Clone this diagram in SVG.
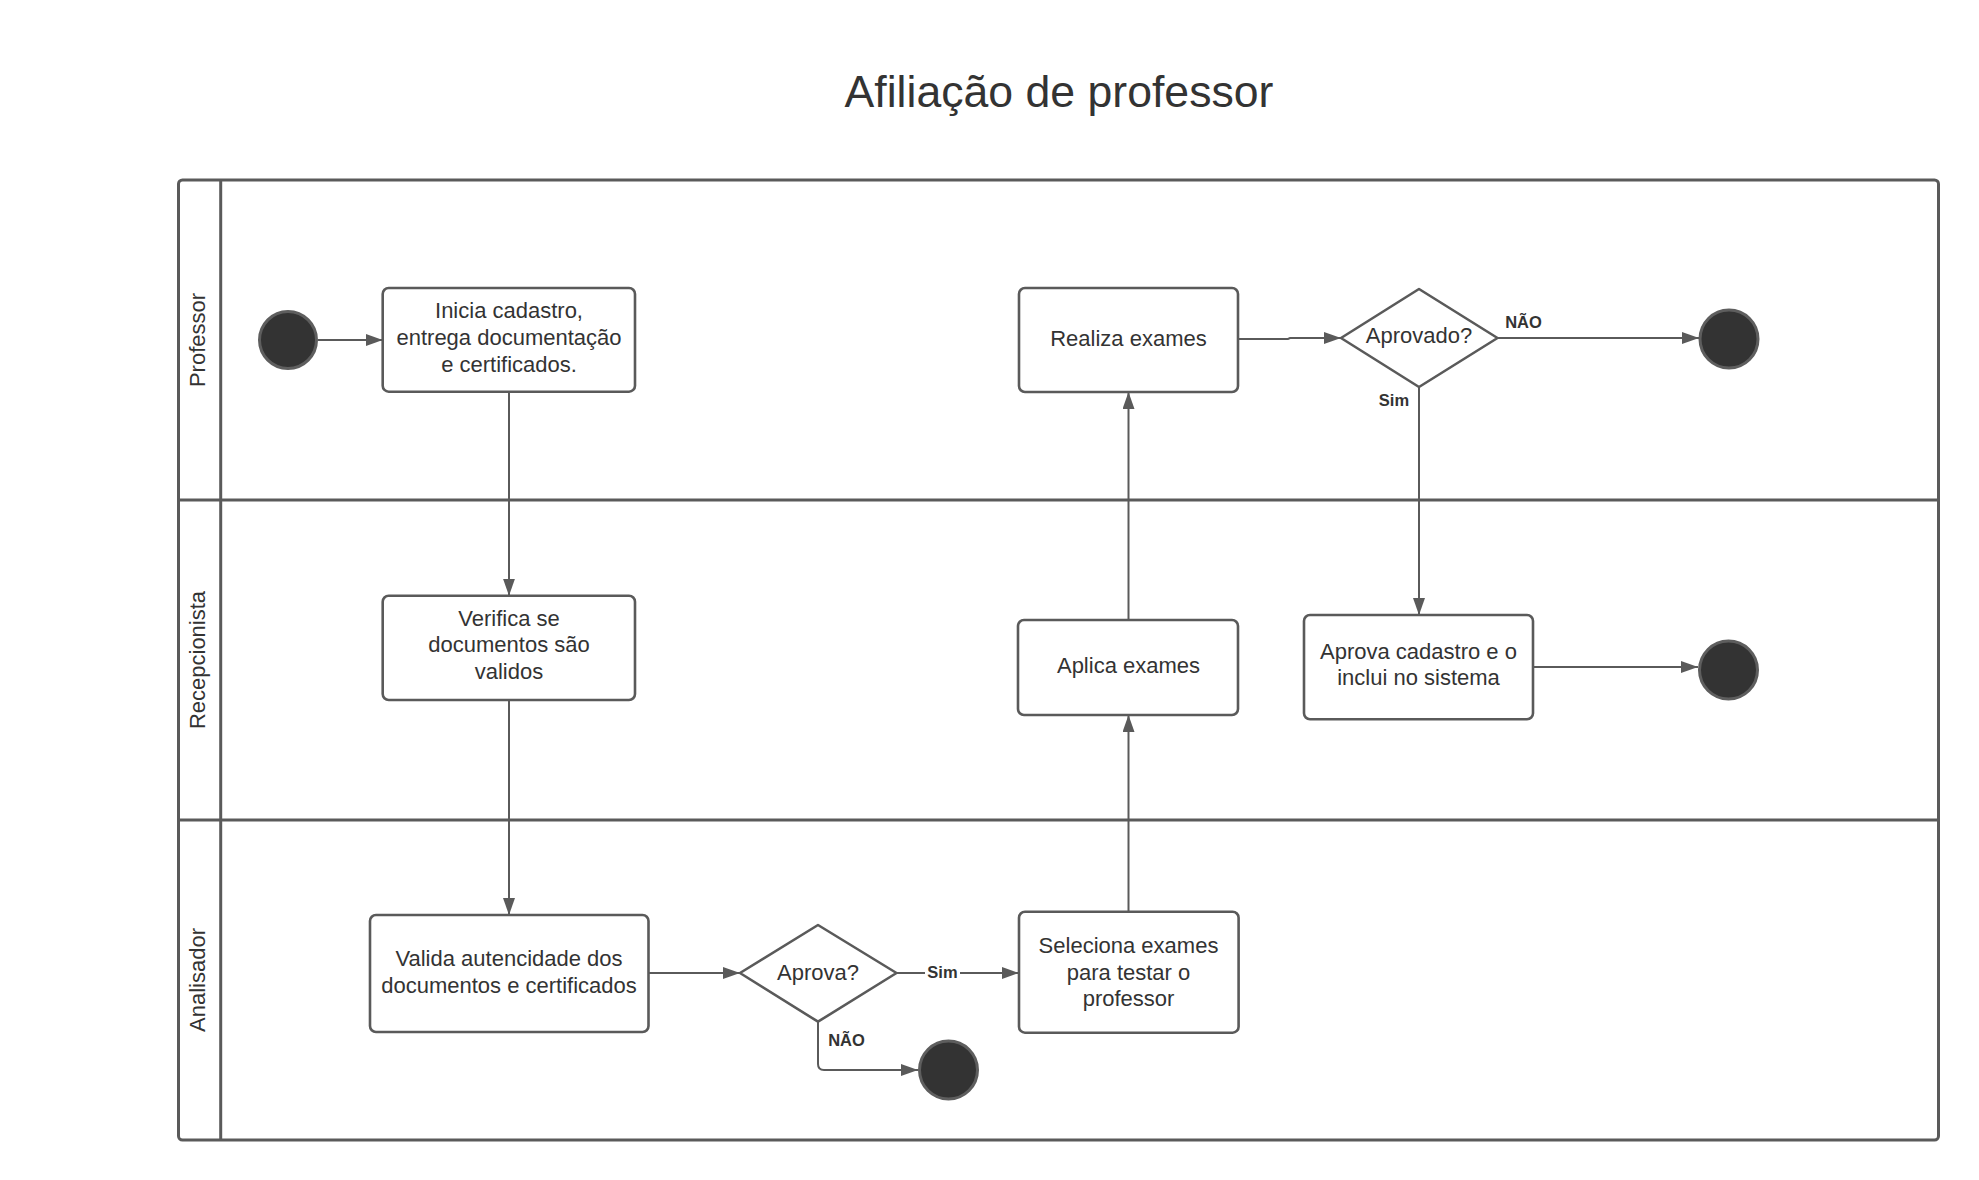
<svg xmlns="http://www.w3.org/2000/svg" width="1979" height="1180" viewBox="0 0 1979 1180">
<style>
.lane{fill:none;stroke:#5a5a5a;stroke-width:3}
.box{fill:#fff;stroke:#5a5a5a;stroke-width:2.6}
.end{fill:#333;stroke:#5e5e5e;stroke-width:3}
.t{font-family:"Liberation Sans",Arial,sans-serif;font-size:22px;fill:#333;text-anchor:middle}
.lbl{font-family:"Liberation Sans",Arial,sans-serif;font-size:16.5px;font-weight:bold;fill:#333}
.ln{font-family:"Liberation Sans",Arial,sans-serif;font-size:22px;fill:#333;text-anchor:middle}
.c{fill:none;stroke:#5a5a5a;stroke-width:2}
</style>
<defs>
<marker id="ah" markerUnits="userSpaceOnUse" markerWidth="17" markerHeight="12" refX="17" refY="6" orient="auto">
<path d="M0,0 L17,6 L0,12 z" fill="#5a5a5a"/>
</marker>
</defs>
<rect width="1979" height="1180" fill="#fff"/>
<text x="1059" y="107" font-family="Liberation Sans, Arial, sans-serif" font-size="44.6" fill="#333" text-anchor="middle">Afiliação de professor</text>
<g id="pool">
<rect class="lane" x="178.5" y="180" width="1760" height="960" rx="4"/>
<line class="lane" x1="220.7" y1="180" x2="220.7" y2="1140"/>
<line class="lane" x1="178.5" y1="500" x2="1938.5" y2="500"/>
<line class="lane" x1="178.5" y1="820" x2="1938.5" y2="820"/>
<text class="ln" transform="translate(205,340) rotate(-90)">Professor</text>
<text class="ln" transform="translate(205,660) rotate(-90)">Recepcionista</text>
<text class="ln" transform="translate(205,980) rotate(-90)">Analisador</text>
</g>
<g id="connectors">
<line class="c" x1="318" y1="340" x2="382.7" y2="340" marker-end="url(#ah)"/>
<line class="c" x1="509" y1="392" x2="509" y2="595.7" marker-end="url(#ah)"/>
<line class="c" x1="509" y1="700" x2="509" y2="915" marker-end="url(#ah)"/>
<line class="c" x1="648.5" y1="973" x2="740" y2="973" marker-end="url(#ah)"/>
<line class="c" x1="896.5" y1="973" x2="1019" y2="973" marker-end="url(#ah)"/>
<path class="c" d="M818,1022 V1064 Q818,1070 824,1070 H918" marker-end="url(#ah)"/>
<line class="c" x1="1128.5" y1="912" x2="1128.5" y2="715" marker-end="url(#ah)"/>
<line class="c" x1="1128.5" y1="620" x2="1128.5" y2="392" marker-end="url(#ah)"/>
<path class="c" d="M1238,339 H1288 L1290,338 H1341" marker-end="url(#ah)"/>
<line class="c" x1="1497.5" y1="338" x2="1699" y2="338" marker-end="url(#ah)"/>
<line class="c" x1="1419" y1="387" x2="1419" y2="615" marker-end="url(#ah)"/>
<line class="c" x1="1533" y1="667" x2="1698" y2="667" marker-end="url(#ah)"/>
<rect x="925" y="962" width="35" height="20" fill="#fff"/>
<text class="lbl" x="942.5" y="978" text-anchor="middle">Sim</text>
<text class="lbl" x="1523.5" y="328" text-anchor="middle">NÃO</text>
<text class="lbl" x="1394" y="406" text-anchor="middle">Sim</text>
<text class="lbl" x="846.5" y="1046" text-anchor="middle">NÃO</text>
</g>
<g id="start"><circle class="end" cx="288" cy="340" r="28.5"/></g>
<g id="n_inicia">
<rect class="box" x="382.7" y="288" width="252.3" height="103.7" rx="6"/>
<text class="t" x="509" y="318.3">Inicia cadastro,</text>
<text class="t" x="509" y="345">entrega documentação</text>
<text class="t" x="509" y="371.7">e certificados.</text>
</g>
<g id="n_verifica">
<rect class="box" x="382.7" y="595.7" width="252.3" height="104.3" rx="6"/>
<text class="t" x="509" y="625.7">Verifica se</text>
<text class="t" x="509" y="652.3">documentos são</text>
<text class="t" x="509" y="679">validos</text>
</g>
<g id="n_valida">
<rect class="box" x="370" y="915" width="278.5" height="117" rx="6"/>
<text class="t" x="509" y="966">Valida autencidade dos</text>
<text class="t" x="509" y="993">documentos e certificados</text>
</g>
<g id="d_aprova">
<path class="box" d="M740,973 L818,925 L896.5,973 L818,1021.7 Z" stroke-linejoin="round"/>
<text class="t" x="818" y="979.5">Aprova?</text>
</g>
<g id="end_aprova"><circle class="end" cx="948.5" cy="1070" r="29"/></g>
<g id="n_seleciona">
<rect class="box" x="1019" y="911.7" width="219.6" height="121" rx="6"/>
<text class="t" x="1128.5" y="953">Seleciona exames</text>
<text class="t" x="1128.5" y="979.5">para testar o</text>
<text class="t" x="1128.5" y="1006">professor</text>
</g>
<g id="n_aplica">
<rect class="box" x="1018" y="620" width="220" height="95" rx="6"/>
<text class="t" x="1128.5" y="673">Aplica exames</text>
</g>
<g id="n_realiza">
<rect class="box" x="1019" y="288" width="219" height="104" rx="6"/>
<text class="t" x="1128.5" y="346">Realiza exames</text>
</g>
<g id="d_aprovado">
<path class="box" d="M1341,338 L1419,289 L1497.5,338 L1419,387 Z" stroke-linejoin="round"/>
<text class="t" x="1419" y="343">Aprovado?</text>
</g>
<g id="end_prof"><circle class="end" cx="1729" cy="339" r="29"/></g>
<g id="n_aprova_cad">
<rect class="box" x="1304" y="615" width="229" height="104.3" rx="6"/>
<text class="t" x="1418.5" y="659">Aprova cadastro e o</text>
<text class="t" x="1418.5" y="685">inclui no sistema</text>
</g>
<g id="end_recep"><circle class="end" cx="1728.5" cy="670" r="29"/></g>
</svg>
